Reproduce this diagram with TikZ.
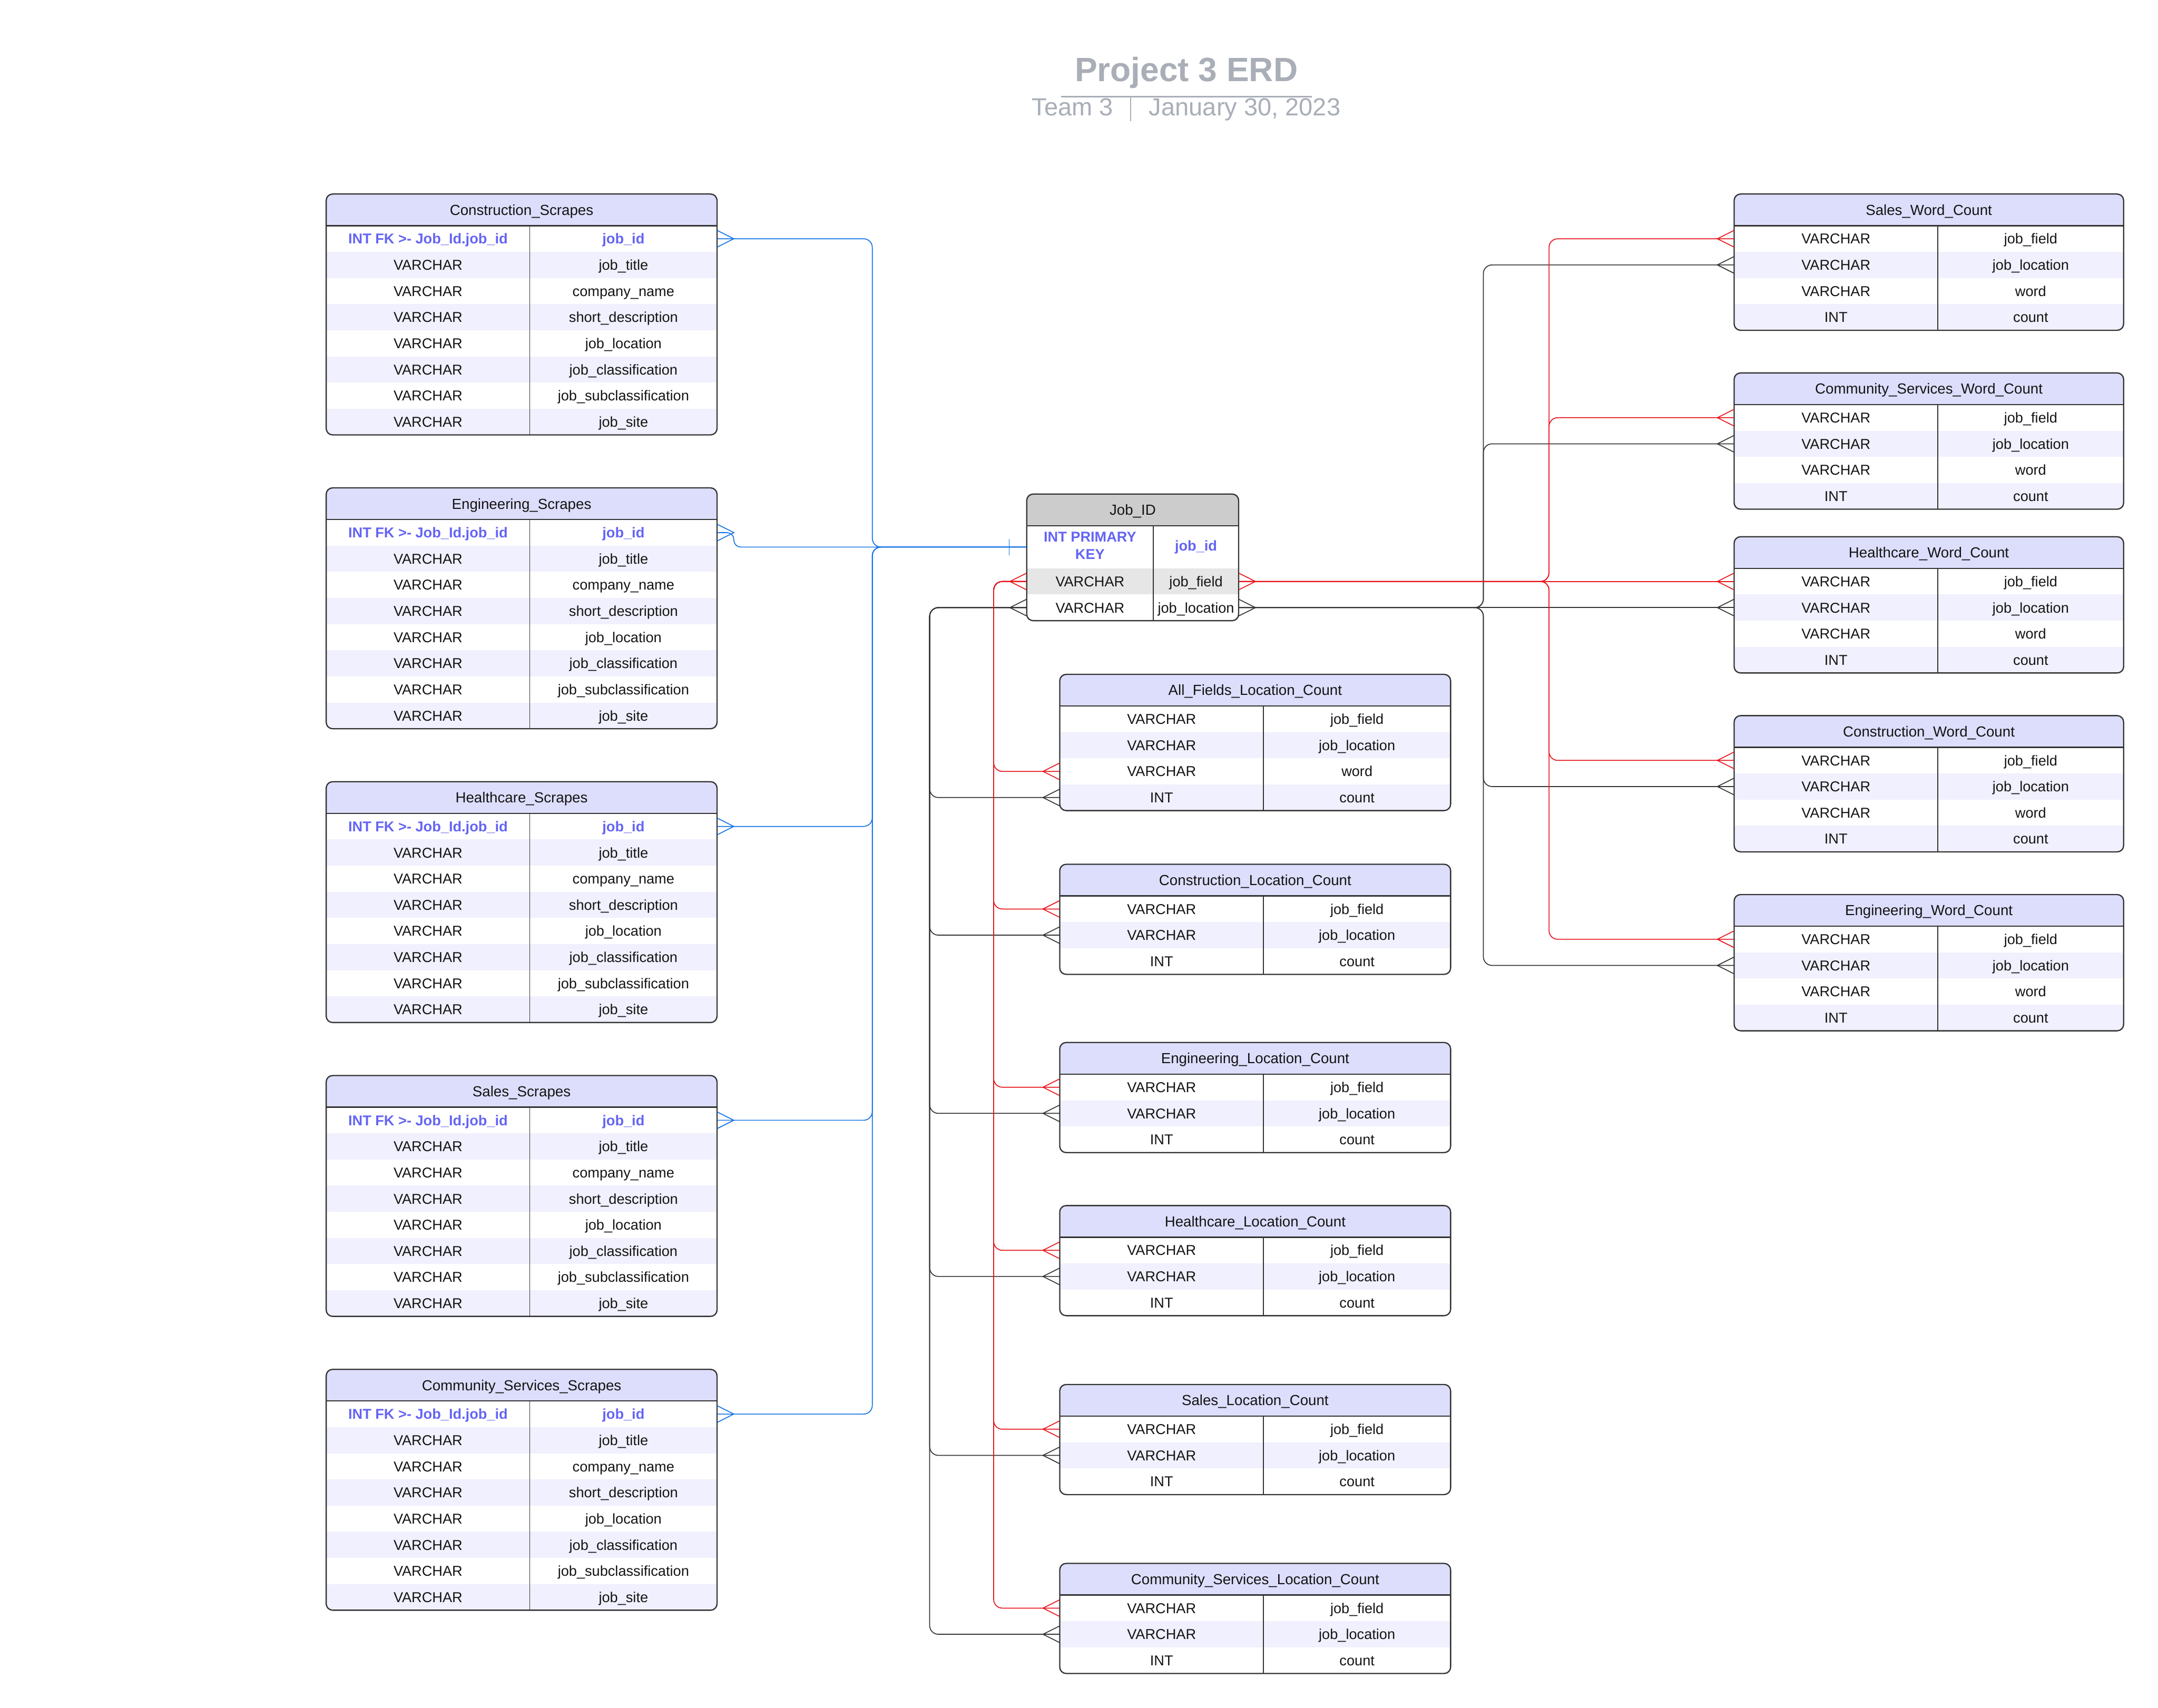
\documentclass[tikz,border=0pt]{standalone}
\usepackage{fontspec}
\setmainfont{Liberation Sans}
\usetikzlibrary{calc}
\definecolor{hdrfill}{RGB}{221,222,252}
\definecolor{stripe}{RGB}{240,240,254}
\definecolor{jidhdr}{RGB}{204,204,204}
\definecolor{jidstripe}{RGB}{230,230,230}
\definecolor{tline}{RGB}{51,51,51}
\definecolor{keyblue}{RGB}{100,100,245}
\definecolor{cblue}{RGB}{18,115,228}
\definecolor{cred}{RGB}{232,20,28}
\definecolor{cdark}{RGB}{51,51,51}
\definecolor{titlegray}{RGB}{169,174,183}
\definecolor{txtc}{RGB}{20,20,20}

\tikzset{
 rowbox/.style={rectangle, inner sep=0pt, minimum height=19pt, draw=none},
 celltxt/.style={inner sep=0pt, text height=7.45pt, text depth=0pt, font=\fontsize{10.4}{12}\selectfont, text=txtc},
 hdrtxt/.style={inner sep=0pt, text height=7.6pt, text depth=0pt, font=\fontsize{10.6}{12}\selectfont, text=txtc},
 tborder/.style={draw=tline, line width=0.9pt, rounded corners=4.7pt},
 hsep/.style={draw=tline, line width=0.9pt},
 csep/.style={draw=tline, line width=0.5pt},
 conn/.style={line width=0.65pt, rounded corners=6.3pt},
 bluec/.style={conn, draw=cblue},
 redc/.style={conn, draw=cred},
 darkc/.style={conn, draw=cdark},
}

\newcommand\scraperows{INT FK >- Job\_Id.job\_id/job\_id, VARCHAR/job\_title, VARCHAR/company\_name, VARCHAR/short\_description, VARCHAR/job\_location, VARCHAR/job\_classification, VARCHAR/job\_subclassification, VARCHAR/job\_site}
\newcommand\locrows{VARCHAR/job\_field, VARCHAR/job\_location, INT/count}
\newcommand\wordrows{VARCHAR/job\_field, VARCHAR/job\_location, VARCHAR/word, INT/count}

% #1 name, #2 L, #3 T, #4 W, #5 left column width, #6 rows, #7 title, #8 row list macro, #9 first row is key (1/0)
\newcommand\erdtable[9]{%
 \pgfmathsetmacro\tB{#3+23+19*#6}%
 \pgfmathsetmacro\tR{#2+#4}%
 \pgfmathsetmacro\tD{#2+#5}%
 \pgfmathsetmacro\tXa{#2+#5/2}%
 \pgfmathsetmacro\tXb{#2+#5+(#4-#5)/2}%
 \pgfmathsetmacro\tXm{#2+#4/2}%
 \pgfmathsetmacro\tHy{#3+11.5}%
 \begin{scope}
  \clip[rounded corners=4.7pt] (#2,#3) rectangle (\tR,\tB);
  \node[rowbox, minimum width=#4, minimum height=23, fill=hdrfill] (#1) at (\tXm,\tHy) {};
  \foreach \ty/\fd [count=\i] in #8 {
    \pgfmathsetmacro\yc{#3+23+19*(\i-1)+9.5}
    \ifodd\i \def\rowfill{white}\else\def\rowfill{stripe}\fi
    \node[rowbox, minimum width=#4, fill=\rowfill] (#1-\i) at (\tXm,\yc) {};
  }
 \end{scope}
 \foreach \ty/\fd [count=\i] in #8 {
    \pgfmathsetmacro\yc{#3+23+19*(\i-1)+9.5}
    \ifnum\i=1 \ifnum#9=1 \def\cellfont{\bfseries\color{keyblue}}\else\def\cellfont{}\fi\else\def\cellfont{}\fi
    \node[celltxt] (#1-\i-t) at (\tXa,\yc) {\cellfont\ty};
    \node[celltxt] (#1-\i-f) at (\tXb,\yc) {\cellfont\fd};
 }
 \draw[tborder] (#2,#3) rectangle (\tR,\tB);
 \draw[hsep] (#2,#3+23) -- (\tR,#3+23);
 \draw[csep] (\tD,#3+23) -- (\tD,\tB);
 \node[hdrtxt] (#1-title) at (\tXm,\tHy) {#7};
}

\newcommand\footE[2]{\draw[#2, sharp corners] ([yshift=6pt]#1.east) -- ([xshift=12pt]#1.east) -- ([yshift=-6pt]#1.east);}
\newcommand\footW[2]{\draw[#2, sharp corners] ([yshift=6pt]#1.west) -- ([xshift=-12pt]#1.west) -- ([yshift=-6pt]#1.west);}

\begin{document}
\begin{tikzpicture}[x=1pt, y=-1pt]
\fill[white] (0,0) rectangle (1568,1241);
\useasboundingbox (0,0) rectangle (1568,1241);

% ---------- title ----------
\node[font=\fontsize{24.5}{28}\selectfont\bfseries, text=titlegray, anchor=base, inner sep=0pt] (title) at (862,59.2) {Project 3 ERD};
\draw[titlegray, line width=1.3pt] (771,70.3) -- (953,70.3);
\node[font=\fontsize{18}{20}\selectfont, text=titlegray, anchor=base west, inner sep=0pt] (team) at (749.6,84.2) {Team 3};
\draw[titlegray, line width=1pt] (821.5,71) -- (821.5,88);
\node[font=\fontsize{18}{20}\selectfont, text=titlegray, anchor=base west, inner sep=0pt] (date) at (834.7,84.2) {January 30, 2023};

% ---------- scrape tables ----------
\erdtable{cs}{237}{141}{284}{148}{8}{Construction\_Scrapes}{\scraperows}{1}
\erdtable{es}{237}{354.5}{284}{148}{8}{Engineering\_Scrapes}{\scraperows}{1}
\erdtable{hs}{237}{568}{284}{148}{8}{Healthcare\_Scrapes}{\scraperows}{1}
\erdtable{ss}{237}{781.5}{284}{148}{8}{Sales\_Scrapes}{\scraperows}{1}
\erdtable{css}{237}{995}{284}{148}{8}{Community\_Services\_Scrapes}{\scraperows}{1}

% ---------- location count tables ----------
\erdtable{afl}{770}{490}{284}{148}{4}{All\_Fields\_Location\_Count}{\wordrows}{0}
\erdtable{clc}{770}{628}{284}{148}{3}{Construction\_Location\_Count}{\locrows}{0}
\erdtable{elc}{770}{757.5}{284}{148}{3}{Engineering\_Location\_Count}{\locrows}{0}
\erdtable{hlc}{770}{876}{284}{148}{3}{Healthcare\_Location\_Count}{\locrows}{0}
\erdtable{slc}{770}{1006}{284}{148}{3}{Sales\_Location\_Count}{\locrows}{0}
\erdtable{cslc}{770}{1136}{284}{148}{3}{Community\_Services\_Location\_Count}{\locrows}{0}

% ---------- word count tables ----------
\erdtable{swc}{1260}{141}{283}{148}{4}{Sales\_Word\_Count}{\wordrows}{0}
\erdtable{cswc}{1260}{271}{283}{148}{4}{Community\_Services\_Word\_Count}{\wordrows}{0}
\erdtable{hwc}{1260}{390}{283}{148}{4}{Healthcare\_Word\_Count}{\wordrows}{0}
\erdtable{cowc}{1260}{520}{283}{148}{4}{Construction\_Word\_Count}{\wordrows}{0}
\erdtable{ewc}{1260}{650}{283}{148}{4}{Engineering\_Word\_Count}{\wordrows}{0}

% ---------- Job_ID ----------
\begin{scope}
 \clip[rounded corners=4.7pt] (746,359) rectangle (900,451);
 \node[rowbox, minimum width=154, minimum height=23, fill=jidhdr] (jid) at (823,370.5) {};
 \node[rowbox, minimum width=154, minimum height=31, fill=white] (jid-1) at (823,397.5) {};
 \node[rowbox, minimum width=154, fill=jidstripe] (jid-2) at (823,422.5) {};
 \node[rowbox, minimum width=154, fill=white] (jid-3) at (823,441.5) {};
\end{scope}
\draw[tborder] (746,359) rectangle (900,451);
\draw[hsep] (746,382) -- (900,382);
\draw[csep] (838,382) -- (838,451);
\node[hdrtxt] (jid-title) at (823,370.5) {Job\_ID};
\node[celltxt, font=\fontsize{10.4}{12}\selectfont\bfseries, text=keyblue] (jid-1-ta) at (792,390.0) {INT PRIMARY};
\node[celltxt, font=\fontsize{10.4}{12}\selectfont\bfseries, text=keyblue] (jid-1-tb) at (792,402.5) {KEY};
\node[celltxt, font=\fontsize{10.4}{12}\selectfont\bfseries, text=keyblue] (jid-1-f) at (869,396.4) {job\_id};
\node[celltxt] (jid-2-t) at (792,422.5) {VARCHAR};
\node[celltxt] (jid-2-f) at (869,422.5) {job\_field};
\node[celltxt] (jid-3-t) at (792,441.5) {VARCHAR};
\node[celltxt] (jid-3-f) at (869,441.5) {job\_location};

% ---------- bus coordinates ----------
\coordinate (busB) at (633.8,0);
\coordinate (busR) at (722,0);
\coordinate (busD) at (675.5,0);
\coordinate (busRR) at (1125.5,0);
\coordinate (busDR) at (1077.8,0);

% ---------- blue: scrapes -> Job_ID ----------
\draw[bluec] (cs-1.east) -| (busB |- jid-1.west) -- (jid-1.west);
\draw[bluec, rounded corners=5pt] (es-1.east) -- ++(12,0) |- (jid-1.west);
\draw[bluec] (hs-1.east) -| (busB |- jid-1.west) -- (jid-1.west);
\draw[bluec] (ss-1.east) -| (busB |- jid-1.west) -- (jid-1.west);
\draw[bluec] (css-1.east) -| (busB |- jid-1.west) -- (jid-1.west);
\foreach \t in {cs,es,hs,ss,css} { \footE{\t-1}{bluec} }
\draw[bluec] ([xshift=-12.5pt,yshift=6pt]jid-1.west) -- ([xshift=-12.5pt,yshift=-6pt]jid-1.west);

% ---------- dark left: job_location -> location tables ----------
\foreach \t in {afl-4,clc-2,elc-2,hlc-2,slc-2,cslc-2} {
  \draw[darkc] (jid-3.west) -| (busD |- \t.west) -- (\t.west);
  \footW{\t}{darkc}
}
\footW{jid-3}{darkc}

% ---------- red left: job_field -> location tables ----------
\foreach \t in {afl-3,clc-1,elc-1,hlc-1,slc-1,cslc-1} {
  \draw[redc] (jid-2.west) -| (busR |- \t.west) -- (\t.west);
  \footW{\t}{redc}
}
\footW{jid-2}{redc}

% ---------- dark right: job_location -> word tables ----------
\foreach \t in {swc-2,cswc-2,cowc-2,ewc-2} {
  \draw[darkc] (jid-3.east) -| (busDR |- \t.west) -- (\t.west);
}
\draw[darkc] (jid-3.east) -- (hwc-2.west);
\foreach \t in {swc-2,cswc-2,hwc-2,cowc-2,ewc-2} { \footW{\t}{darkc} }
\footE{jid-3}{darkc}

% ---------- red right: job_field -> word tables ----------
\foreach \t in {swc-1,cswc-1,cowc-1,ewc-1} {
  \draw[redc] (jid-2.east) -| (busRR |- \t.west) -- (\t.west);
}
\draw[redc] (jid-2.east) -- (hwc-1.west);
\foreach \t in {swc-1,cswc-1,hwc-1,cowc-1,ewc-1} { \footW{\t}{redc} }
\footE{jid-2}{redc}

\end{tikzpicture}
\end{document}
